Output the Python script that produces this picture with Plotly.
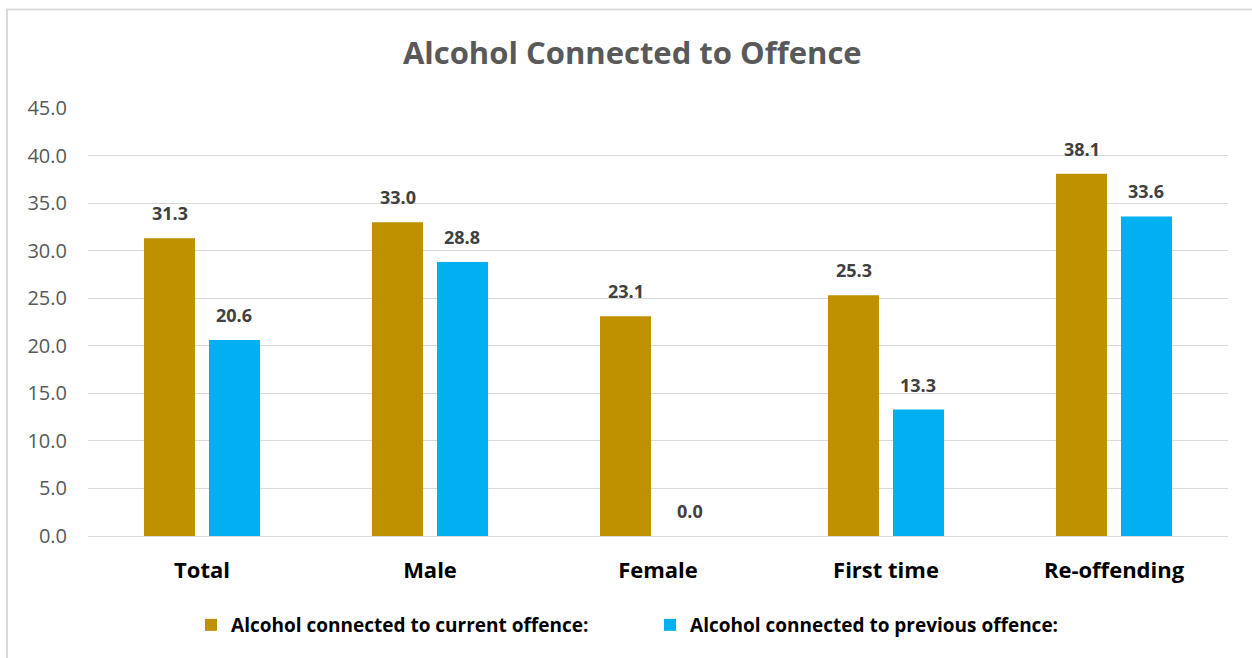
import plotly.graph_objects as go

categories = ["Total", "Male", "Female", "First time", "Re-offending"]
current_offence = [31.3, 33.0, 23.1, 25.3, 38.1]
previous_offence = [20.6, 28.8, 0.0, 13.3, 33.6]
series_names = ["Alcohol connected to current offence:", "Alcohol connected to previous offence:"]
series_colors = ["#BF9000", "#00B0F0"]
y_ticks = [0, 5, 10, 15, 20, 25, 30, 35, 40, 45]

W, H = 1252, 658
ML, MR, MT, MB = 88, 24, 108, 122
PW, PH = W - ML - MR, H - MT - MB
BARGAP, BARGROUPGAP = 0.43, 0.215

def px_x(px):
    return (px - ML) / PW

def px_y(py):
    return (H - MB - py) / PH

FONT = "Open Sans"

fig = go.Figure()
for name, values, color in zip(series_names, [current_offence, previous_offence], series_colors):
    fig.add_trace(go.Bar(x=categories, y=values, name=name, marker=dict(color=color, line=dict(width=0))))

# value labels above each bar, shifted to the centre of its slot in the group
slot_px = (1 - BARGAP) / 2 * PW / len(categories)
for offset, values in zip([-slot_px / 2, slot_px / 2], [current_offence, previous_offence]):
    for cat, v in zip(categories, values):
        fig.add_annotation(x=cat, y=v, text=f"<b>{v:.1f}</b>", showarrow=False,
                           xanchor="center", yanchor="bottom", xshift=offset, yshift=11,
                           font=dict(family=FONT, size=18, color="#404040"))

fig.update_layout(
    width=W, height=H,
    margin=dict(l=ML, r=MR, t=MT, b=MB),
    paper_bgcolor="white", plot_bgcolor="white",
    barmode="group", bargap=BARGAP, bargroupgap=BARGROUPGAP,
    title=dict(text="<b>Alcohol Connected to Offence</b>", x=0.505, xanchor="center",
               y=1 - 53 / H, yanchor="middle",
               font=dict(family=FONT, size=31, color="#595959")),
    xaxis=dict(showgrid=False, showline=True, linecolor="#D9D9D9", linewidth=1,
               ticks="", ticklabelstandoff=15,
               tickfont=dict(family=FONT, size=22, color="#000000"),
               tickprefix="<b>", ticksuffix="</b>"),
    yaxis=dict(range=[0, 45], tickvals=y_ticks, ticktext=[f"{v:.1f}" for v in y_ticks],
               showgrid=True, gridcolor="#D9D9D9", gridwidth=1, zeroline=False,
               ticks="", ticklabelstandoff=20,
               tickfont=dict(family=FONT, size=20, color="#595959")),
    legend=dict(orientation="h", x=0.493, xanchor="center", y=px_y(625), yanchor="middle",
                font=dict(family=FONT, size=19, color="#000000", weight="bold"),
                itemwidth=30, tracegroupgap=0, entrywidthmode="pixels", entrywidth=414),
    showlegend=True,
)

fig.add_shape(type="rect", xref="paper", yref="paper",
              x0=px_x(7), x1=px_x(1270), y0=px_y(680), y1=px_y(9.5),
              line=dict(color="#D9D9D9", width=2), fillcolor="rgba(0,0,0,0)", layer="below")

fig.write_html("out.html")
